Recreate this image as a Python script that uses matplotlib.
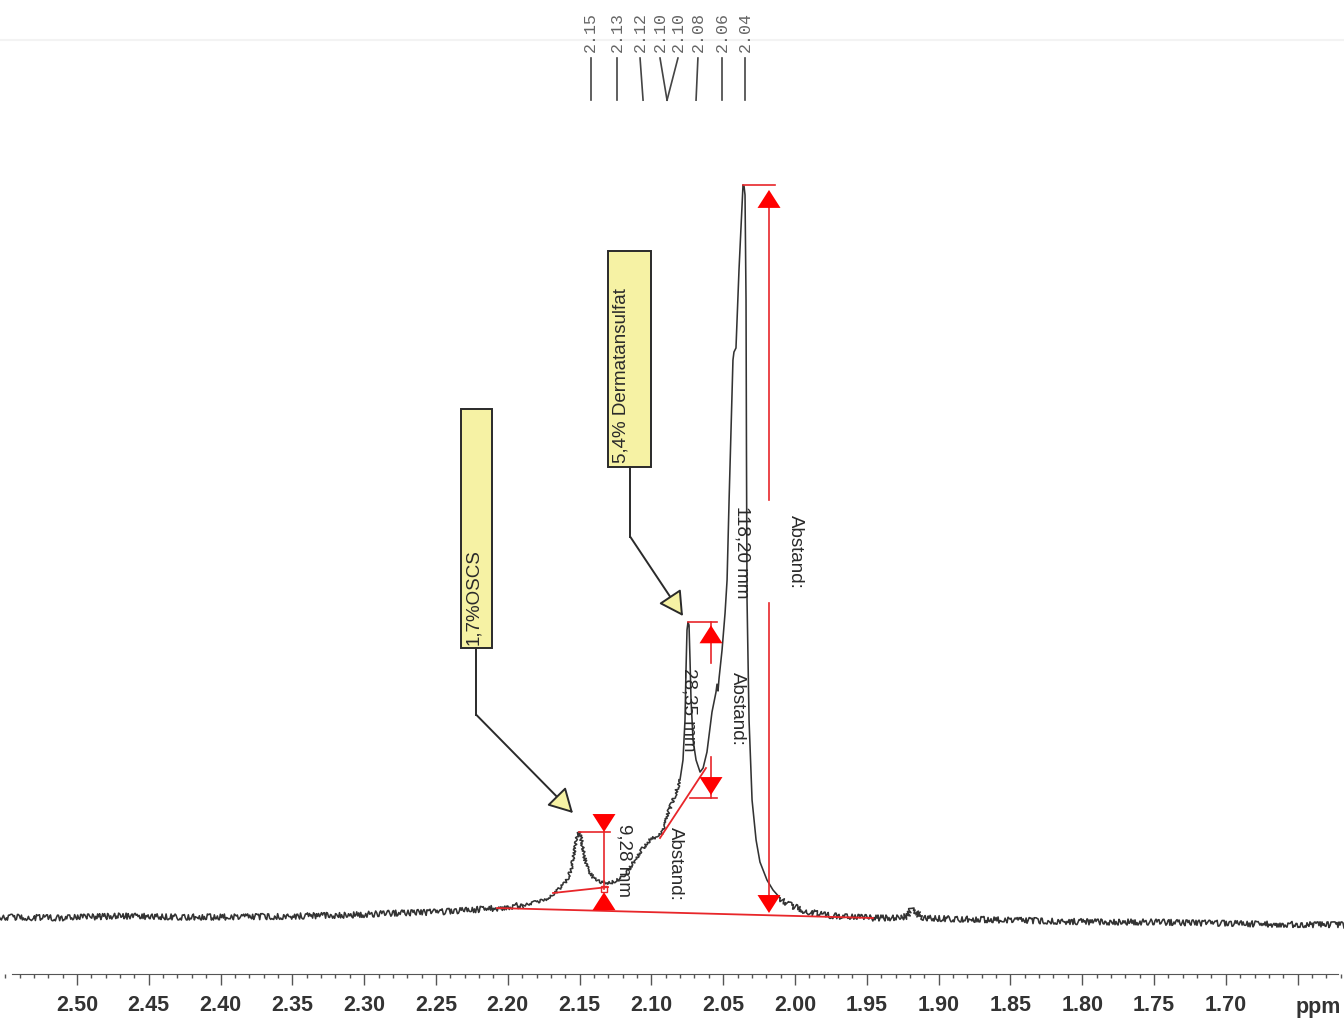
import matplotlib
matplotlib.use("Agg")
import matplotlib.pyplot as plt
from matplotlib.patches import Rectangle, Polygon
from matplotlib.ticker import MultipleLocator, FixedLocator

plt.rcParams['font.family'] = ['Liberation Sans', 'DejaVu Sans']

# spectrum trace: chemical shift (ppm) and height (mm)
ppm = [2.554, 2.512, 2.470, 2.428, 2.386, 2.345, 2.310, 2.275, 2.247, 2.226,
       2.2075, 2.1894, 2.1741, 2.1657, 2.1594, 2.1560, 2.1539, 2.1518, 2.1504, 2.1490,
       2.1469, 2.1441, 2.1407, 2.1358, 2.1288, 2.1218, 2.1170, 2.1114, 2.1058, 2.1010,
       2.0961, 2.0926, 2.0905, 2.0884, 2.0835, 2.0801, 2.0780, 2.0766, 2.0759, 2.0752,
       2.0745, 2.0738, 2.0731, 2.0724, 2.0710, 2.0689, 2.0661, 2.0640, 2.0613, 2.0578,
       2.0550, 2.0543, 2.0536, 2.0529, 2.0508, 2.0487, 2.0473, 2.0459, 2.0432, 2.0425,
       2.0411, 2.0390, 2.0362, 2.0355, 2.0348, 2.0341, 2.0338, 2.0334, 2.0320, 2.0299,
       2.0271, 2.0244, 2.0195, 2.0153, 2.0104, 2.0035, 1.9930, 1.9805, 1.9617, 1.9457,
       1.9269, 1.9220, 1.9185, 1.9157, 1.9115, 1.8851, 1.8572, 1.8224, 1.7876, 1.7528,
       1.7179, 1.6762, 1.6177]
height = [0.0, -0.16, 0.16, 0.0, 0.0, 0.16, 0.32, 0.65, 0.81, 1.13,
          1.45, 1.94, 2.75, 4.20, 5.65, 7.59, 10.01, 12.76, 13.73, 12.76,
          9.85, 7.59, 6.46, 5.65, 5.49, 6.14, 7.27, 9.20, 11.14, 12.43,
          13.08, 13.56, 14.86, 16.79, 19.70, 22.12, 25.35, 31.81, 39.88, 46.34,
          47.60, 47.15, 41.50, 35.04, 28.58, 25.35, 23.41, 24.06, 26.64, 33.10,
          36.33, 37.60, 36.50, 38.50, 43.11, 49.09, 54.42, 67.33, 89.94, 91.23,
          91.88, 104.47, 118.20, 118.04, 116.58, 99.63, 75.41, 51.19, 31.81, 18.89,
          12.43, 8.88, 5.97, 4.36, 3.07, 1.94, 0.97, 0.32, 0.0, -0.16,
          -0.16, 0.16, 1.29, 0.81, -0.16, -0.32, -0.48, -0.65, -0.81, -0.81,
          -0.97, -1.13, -1.29]

# peak picking list at the top
peak_labels = ['2.15', '2.13', '2.12', '2.10', '2.10', '2.08', '2.06', '2.04']
label_x = [2.1423, 2.1240, 2.1079, 2.0940, 2.0815, 2.0676, 2.0508, 2.0348]
line_end_x = [2.1423, 2.1240, 2.1058, 2.0891, 2.0891, 2.0689, 2.0508, 2.0348]

# measured distances (mm) and the peak heights they start from
oscs_top, oscs_dist = 13.73, 9.28
derm_top, derm_dist = 47.60, 28.35
main_top, main_dist = 118.20, 118.20

fig = plt.figure(figsize=(13.44, 10.24), dpi=100)
ax = fig.add_axes([0, 50 / 1024, 1, 974 / 1024])
ax.set_xlim(2.5536, 1.6177)
ax.set_ylim(-9.20, 148.07)

red = '#e8262a'
ink = '#2a2a2a'

ax.axhline(141.6, color='#f3f3f3', lw=1.5, zorder=0)

# baseline noise is drawn as a sketch effect, strong on the flat parts only
for a, b, noise in [(0, 12, 3.0), (11, 36, 1.5), (35, 75, 0), (74, len(ppm), 3.0)]:
    seg, = ax.plot(ppm[a:b], height[a:b], color='#333333', lw=1.15, zorder=3)
    if noise:
        seg.set_sketch_params(scale=noise, length=1.2, randomness=8)

# peak list
for lab, xl, xe in zip(peak_labels, label_x, line_end_x):
    ax.text(xl, 139.67, lab, rotation=90, ha='center', va='bottom',
            family='Liberation Mono', fontsize=12, color='#666666')
    ax.plot([xl, xe], [138.7, 131.9], color='#444444', lw=1.2)


def tri(x, apex, up, w=0.016, h=2.9):
    s = -1 if up else 1
    pts = [(x, apex), (x - w / 2, apex + s * h), (x + w / 2, apex + s * h)]
    ax.add_patch(Polygon(pts, closed=True, color='red', lw=0, zorder=5))


# baselines
ax.plot([2.2075, 1.9457], [1.45, -0.16], color=red, lw=1.3, zorder=4)
ax.plot([2.1685, 2.1302], [3.88, 4.84], color=red, lw=1.3, zorder=4)
ax.plot([2.0940, 2.0620], [12.76, 24.06], color=red, lw=1.3, zorder=4)

# OSCS distance
xo = 2.1330
ax.plot([2.1504, 2.1288], [oscs_top, oscs_top], color=red, lw=1.2, zorder=4)
ax.plot([xo, xo], [oscs_top, oscs_top - oscs_dist], color=red, lw=1.2, zorder=4)
ax.plot([xo], [oscs_top - oscs_dist], marker='s', ms=5, mfc='none', mec=red, mew=1, zorder=4)
tri(xo, oscs_top, up=False)
tri(xo, oscs_top - oscs_dist - 0.45, up=True)

# dermatan distance
xd = 2.0585
ax.plot([2.0745, 2.0543], [derm_top, derm_top], color=red, lw=1.2, zorder=4)
ax.plot([2.0731, 2.0543], [derm_top - derm_dist] * 2, color=red, lw=1.2, zorder=4)
ax.plot([xd, xd], [derm_top, 41.0], color=red, lw=1.2, zorder=4)
ax.plot([xd, xd], [25.8, derm_top - derm_dist], color=red, lw=1.2, zorder=4)
tri(xd, derm_top - 0.5, up=True)
tri(xd, derm_top - derm_dist + 0.45, up=False)

# main peak distance
xm = 2.0181
ax.plot([2.0362, 2.0139], [main_top, main_top], color=red, lw=1.2, zorder=4)
ax.plot([xm, xm], [main_top - 3, 67.33], color=red, lw=1.2, zorder=4)
ax.plot([xm, xm], [50.70, 3.0], color=red, lw=1.2, zorder=4)
tri(xm, main_top - 0.8, up=True)
tri(xm, main_top - main_dist + 0.65, up=False)

tkw = dict(rotation=270, ha='center', va='center', fontsize=13.5, color=ink, zorder=6)
ax.text(2.0369, 58.94, '118,20 mm', **tkw)
ax.text(2.0000, 58.94, 'Abstand:', **tkw)
ax.text(2.0738, 33.42, '28,35 mm', **tkw)
ax.text(2.0404, 33.59, 'Abstand:', **tkw)
ax.text(2.1191, 9.20, '9,28 mm', **tkw)
ax.text(2.0829, 8.56, 'Abstand:', **tkw)

# yellow labels with leaders
yellow = '#f6f2a4'
ax.add_patch(Rectangle((2.2110, 43.44), 2.2326 - 2.2110, 82.03 - 43.44,
                       fc=yellow, ec=ink, lw=1.4, zorder=5))
ax.text(2.2235, 43.92, '1,7%OSCS', rotation=90, ha='center', va='bottom',
        fontsize=13.5, color=ink, zorder=6)
ax.add_patch(Rectangle((2.1003, 72.66), 2.1302 - 2.1003, 107.54 - 72.66,
                       fc=yellow, ec=ink, lw=1.4, zorder=5))
ax.text(2.1212, 73.31, '5,4% Dermatansulfat', rotation=90, ha='center', va='bottom',
        fontsize=13.5, color=ink, zorder=6)

arrow = dict(arrowstyle='-|>,head_length=1.0,head_width=0.55', mutation_scale=15,
             fc=yellow, ec=ink, lw=1.4, shrinkA=0, shrinkB=0)
ax.plot([2.2218, 2.2218], [43.44, 32.62], color=ink, lw=1.4, zorder=5)
ax.annotate('', xy=(2.1546, 16.79), xytext=(2.2218, 32.62), arrowprops=arrow, zorder=5)
ax.plot([2.1146, 2.1146], [72.66, 61.36], color=ink, lw=1.4, zorder=5)
ax.annotate('', xy=(2.0780, 48.60), xytext=(2.1146, 61.36), arrowprops=arrow, zorder=5)

# ppm axis
for s in ['left', 'right', 'top']:
    ax.spines[s].set_visible(False)
ax.spines['bottom'].set_bounds(1.622, 2.545)
ax.spines['bottom'].set_color('#555555')
ax.set_yticks([])
major = [2.50 - 0.05 * i for i in range(18)]
ax.xaxis.set_major_locator(FixedLocator(major))
ax.xaxis.set_minor_locator(MultipleLocator(0.01))
ax.set_xticklabels(['%.2f' % v for v in major[:-1]] + [''])
ax.tick_params(axis='x', which='major', direction='out', length=8, width=1,
               color='#555555', pad=7, labelsize=15.5, labelcolor='#333333')
ax.tick_params(axis='x', which='minor', direction='out', length=3, width=1, color='#555555')
for t in ax.get_xticklabels():
    t.set_fontweight('bold')
ax.text(1.6358, -0.034, 'ppm', transform=ax.get_xaxis_transform(), ha='center', va='center',
        fontsize=15.5, fontweight='bold', color='#333333')

fig.savefig('out.png', dpi=100)
